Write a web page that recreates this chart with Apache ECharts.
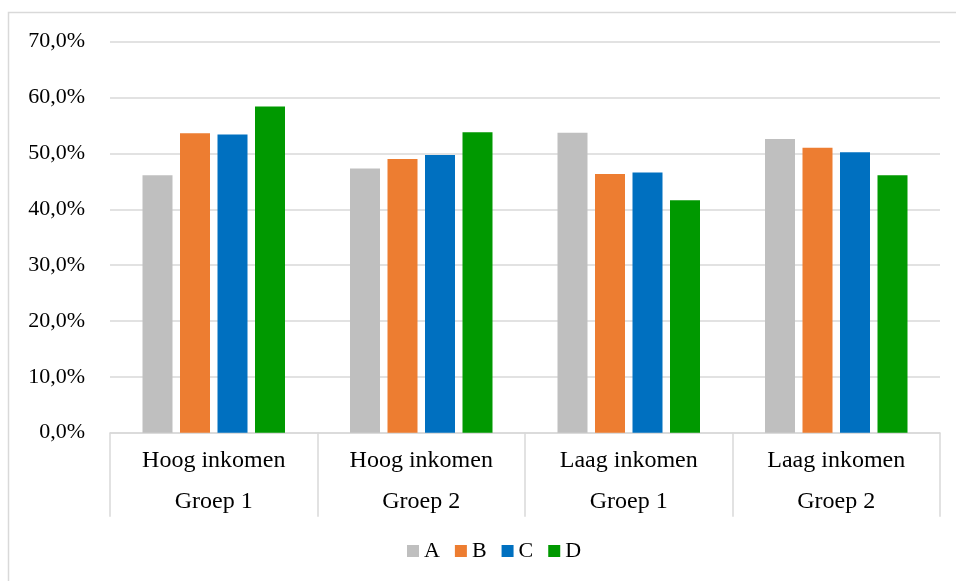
<!DOCTYPE html>
<html>
<head>
<meta charset="utf-8">
<script src="https://cdn.jsdelivr.net/npm/echarts@6/dist/echarts.min.js"></script>
<style>
  html, body { margin: 0; padding: 0; background: #ffffff; }
  #chart { width: 956px; height: 581px; }
</style>
</head>
<body>
<div id="chart"></div>
<script>
// Income level (first label line) and group (second label line) per category
const incomeLabels = ['Hoog inkomen', 'Hoog inkomen', 'Laag inkomen', 'Laag inkomen'];
const groupLabels = ['Groep 1', 'Groep 2', 'Groep 1', 'Groep 2'];

// Share per answer, in percent
const seriesNames = ['A', 'B', 'C', 'D'];
const valuesA = [46.1, 47.3, 53.7, 52.6];
const valuesB = [53.6, 49.0, 46.3, 51.0];
const valuesC = [53.4, 49.7, 46.6, 50.2];
const valuesD = [58.4, 53.8, 41.6, 46.1];

const seriesColors = ['#bfbfbf', '#ed7d31', '#0070c0', '#009900'];
const seriesValues = [valuesA, valuesB, valuesC, valuesD];

const categories = incomeLabels.map((inc, i) => inc + '\n' + groupLabels[i]);

const fontFamily = '"Liberation Serif", "Times New Roman", serif';
const chart = echarts.init(document.getElementById('chart'));

chart.setOption({
  animation: false,
  backgroundColor: '#ffffff',
  textStyle: { fontFamily: fontFamily },
  graphic: [{
    type: 'rect',
    shape: { x: 8.5, y: 12.5, width: 960, height: 580 },
    style: { fill: 'none', stroke: '#d9d9d9', lineWidth: 1.5 },
    silent: true,
    z: -10
  }],
  grid: { left: 110, right: 16, top: 41.7, bottom: 148.3 },
  legend: {
    data: seriesNames,
    top: 535,
    left: 402,
    itemWidth: 12,
    itemHeight: 12,
    itemGap: 15,
    icon: 'rect',
    textStyle: { fontFamily: fontFamily, fontSize: 22, color: '#000000' }
  },
  xAxis: {
    type: 'category',
    data: categories,
    boundaryGap: true,
    axisLine: { show: true, lineStyle: { color: '#d9d9d9', width: 1.5 } },
    axisTick: { show: true, interval: 0, length: 84, lineStyle: { color: '#d9d9d9', width: 1.5 } },
    axisLabel: {
      interval: 0,
      margin: 8,
      fontFamily: fontFamily,
      fontSize: 24,
      color: '#000000',
      lineHeight: 41
    }
  },
  yAxis: {
    type: 'value',
    min: 0,
    max: 70,
    interval: 10,
    axisLine: { show: false },
    axisTick: { show: false },
    splitLine: { lineStyle: { color: '#d9d9d9', width: 1.5 } },
    axisLabel: {
      margin: 25,
      fontFamily: fontFamily,
      fontSize: 22,
      color: '#000000',
      formatter: v => v.toFixed(1).replace('.', ',') + '%'
    }
  },
  series: seriesNames.map((name, i) => ({
    name: name,
    type: 'bar',
    data: seriesValues[i],
    barWidth: 30,
    barGap: '25%',
    itemStyle: { color: seriesColors[i] }
  }))
});
</script>
</body>
</html>
